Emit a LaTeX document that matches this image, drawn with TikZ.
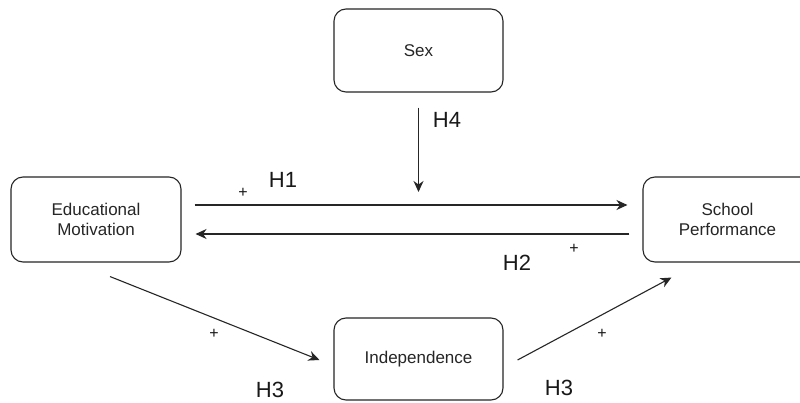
\documentclass[tikz,border=0pt]{standalone}
\usepackage{fontspec}
\setmainfont{Liberation Sans}
\usetikzlibrary{arrows.meta,calc}
\begin{document}
\begin{tikzpicture}[x=1pt,y=-1pt,
  box/.style={draw=black!85,line width=1.1pt,rounded corners=12pt,fill=white,
    text=black!85,align=center,inner sep=0pt,
    font=\fontsize{17}{20}\selectfont},
  arr/.style={draw=black!85,line width=1.1pt,-{Stealth[length=11pt,width=10pt,inset=3.5pt]}},
  hlab/.style={text=black!90,font=\fontsize{22}{24}\selectfont,inner sep=0pt},
  plab/.style={text=black!90,font=\fontsize{16}{18}\selectfont,inner sep=0pt}]
\clip (0,0) rectangle (800,403);
\fill[white] (0,0) rectangle (800,403);

\node[box,minimum width=169pt,minimum height=83pt] (sex) at (418.5,50.5) {Sex};
\node[box,minimum width=170pt,minimum height=85pt] (em) at (96,219.5) {Educational\\Motivation};
\node[box,minimum width=169pt,minimum height=85pt] (sp) at (727.5,219.5) {School\\Performance};
\node[box,minimum width=169pt,minimum height=82pt] (ind) at (418.5,359) {Independence};

\coordinate (h4end) at (418.5,192);

% H1
\draw[arr,shorten <=13pt,shorten >=15pt] ([yshift=14.5pt]em.east) -- ([yshift=14.5pt]sp.west);
% H2
\draw[arr,shorten <=13pt,shorten >=14pt] ([yshift=-14.5pt]sp.west) -- ([yshift=-14.5pt]em.east);
% H4
\draw[arr,shorten <=15pt] (sex.south) -- (h4end);
% H3 paths
\draw[arr] ([xshift=14pt,yshift=-14pt]em.south) -- ([xshift=-14pt,yshift=-1pt]ind.west);
\draw[arr] ([xshift=14pt,yshift=-1pt]ind.east) -- ([xshift=29pt,yshift=-15pt]sp.south west);

% labels
\node[plab] (p1) at (243,193) {+};
\node[hlab] (l1) at (283,180) {H1};
\node[hlab] (l2) at (517,263) {H2};
\node[plab] (p2) at (574,249) {+};
\node[hlab] (l4) at (447,120) {H4};
\node[plab] (p3) at (214,334) {+};
\node[hlab] (l3a) at (270,390) {H3};
\node[plab] (p4) at (602,334) {+};
\node[hlab] (l3b) at (559,388) {H3};
\end{tikzpicture}
\end{document}
